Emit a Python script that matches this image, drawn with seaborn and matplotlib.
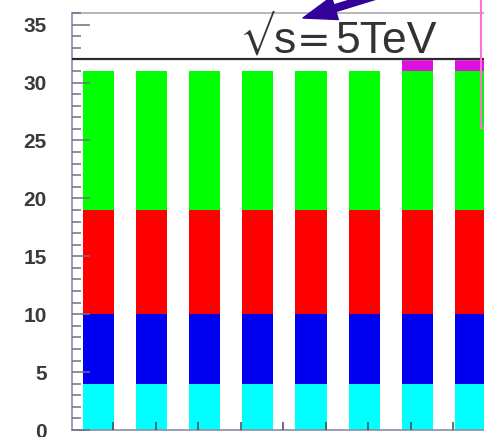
import matplotlib
matplotlib.use("Agg")
import matplotlib.pyplot as plt
from matplotlib.patches import FancyArrowPatch, ArrowStyle
from matplotlib.lines import Line2D
from matplotlib.ticker import MultipleLocator
from matplotlib.transforms import IdentityTransform
import numpy as np
import pandas as pd
import seaborn as sns

# Stacked contributions per bin
bins = ["1", "2", "3", "4", "5", "6", "7", "8"]
cyan_part = [4, 4, 4, 4, 4, 4, 4, 4]
blue_part = [6, 6, 6, 6, 6, 6, 6, 6]
red_part = [9, 9, 9, 9, 9, 9, 9, 9]
green_part = [12, 12, 12, 12, 12, 12, 12, 12]
magenta_part = [0, 0, 0, 0, 0, 0, 1, 1]
y_ticks = [0, 5, 10, 15, 20, 25, 30, 35]

sns.set_theme(style="white")
plt.rcParams["font.family"] = ["Liberation Sans", "DejaVu Sans"]

W, H = 485, 437
fig = plt.figure(figsize=(W / 100, H / 100), dpi=100)
ax = fig.add_axes([72 / W, 7 / H, 478 / W, 417 / H])
ax.set_axisbelow(False)

layers = [cyan_part, blue_part, red_part, green_part, magenta_part]
colors = ["#00ffff", "#0000f0", "#ff0000", "#00ff00", "#dd11dd"]
tops = np.cumsum(np.array(layers, dtype=float), axis=0)

# draw cumulative heights from the top layer down so each overlays the next
for top, col in zip(tops[::-1], colors[::-1]):
    df = pd.DataFrame({"bin": bins, "top": top})
    sns.barplot(data=df, x="bin", y="top", order=bins, color=col,
                saturation=1, width=0.585, linewidth=0, errorbar=None, ax=ax)

ax.set_xlim(-0.5, 8.5)
ax.set_ylim(0, 36)
ax.set_xlabel("")
ax.set_ylabel("")

# header box above the histogram
ax.axhspan(32, 36, color="white", zorder=1.5)
ax.axhline(32, color="#2b2b2b", lw=1.6, zorder=3)

spine_col = "#8c8ca6"
for side in ("left", "bottom", "top"):
    ax.spines[side].set_color(spine_col)
    ax.spines[side].set_linewidth(1.2)
ax.spines["top"].set_color("#a8a8b6")
ax.spines["right"].set_visible(False)

ax.set_yticks(y_ticks)
ax.yaxis.set_minor_locator(MultipleLocator(1))
ax.tick_params(axis="y", which="major", direction="in", length=13, width=1.1,
               color="#6e6e88", labelsize=15, labelcolor="#3a3a3a", pad=18,
               left=True, right=False)
ax.tick_params(axis="y", which="minor", direction="in", length=6.5, width=1.1,
               color="#6e6e88", left=True, right=False)
for lbl in ax.get_yticklabels():
    lbl.set_fontweight("bold")

ax.set_xticks(np.arange(0.28, 8.5, 0.8))
ax.tick_params(axis="x", which="major", direction="in", length=5.8, width=1.1,
               color="#444455", labelbottom=False, bottom=True)

# energy label, built from pieces so the root sign and equals sign are wide
base_y = (H - 53) / H
txt_kw = dict(va="baseline", fontsize=32, color="#333333")
fig.text(240 / W, (H - 46) / H, "\u221a", ha="left", va="baseline",
         family="STIXGeneral", fontsize=26, color="#333333")
fig.text(274 / W, base_y, "s", ha="left", **txt_kw)
fig.text(297 / W, base_y, "=", ha="left", family="DejaVu Sans",
         **{**txt_kw, "fontsize": 29})
fig.text(437 / W, base_y, "5TeV", ha="right", **txt_kw)

arrow = FancyArrowPatch((378, 442), (303, H - 18), transform=IdentityTransform(),
                        arrowstyle=ArrowStyle.Simple(head_length=24, head_width=17,
                                                     tail_width=5),
                        mutation_scale=1, shrinkA=0, shrinkB=0,
                        color="#330099", zorder=10)
fig.add_artist(arrow)

fig.add_artist(Line2D([481 / W, 481 / W, 1.02], [1.02, 1 - 128 / H, 1 - 128 / H],
                      transform=fig.transFigure, color="#ff70d0", lw=1.5))

fig.savefig("out.png", dpi=100)
